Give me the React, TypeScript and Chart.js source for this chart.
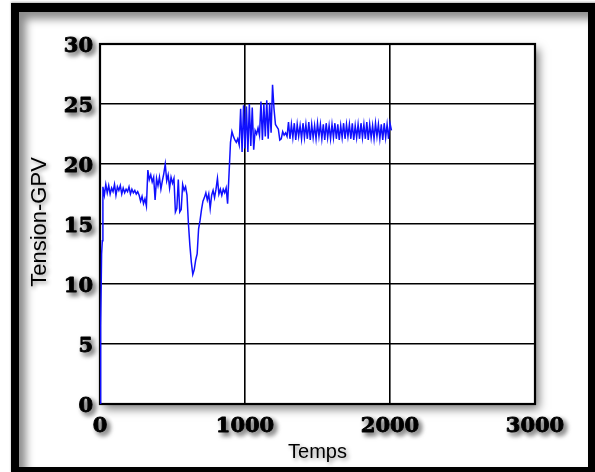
import React, { useEffect, useRef } from "react";
import { Chart, registerables } from "chart.js";

Chart.register(...registerables);

// Axis ticks and titles
const xTicks = [0, 1000, 2000, 3000];
const yTicks = [0, 5, 10, 15, 20, 25, 30];
const xTitle = "Temps";
const yTitle = "Tension-GPV";

// Start-up ramp (irregular times)
const startupTimes = [0, 3, 6, 11, 16];
const startupValues = [0, 3.5, 6.5, 12.5, 13.6];

// Regularly sampled record after the ramp
const sampleStart = 20;
const sampleStep = 10;

// 20 .. 580 : first plateau around 18
const plateauValues = [
  18.1, 17.4, 18.3, 17.6, 18.2, 17.5, 18.0, 17.7, 18.3, 17.4, 18.1, 17.8, 18.2,
  17.5, 18.0, 17.6, 17.9, 17.7, 18.1, 17.5, 17.9, 17.6, 17.8, 17.5, 17.7,
  17.4, 16.9, 17.3, 16.7, 17.1, 16.5,
  19.5, 18.7, 19.1, 18.5, 18.9, 17.0, 18.8, 18.2, 18.9, 17.9, 18.6, 19.2, 20.0,
  18.6, 19.1, 18.0, 18.9, 18.4, 18.8, 16.0, 16.3, 18.7, 16.0, 16.2, 18.3, 17.8,
];

// 590 .. 880 : voltage dip and recovery
const dipValues = [
  18.1, 17.4, 15.0, 13.2, 11.8, 10.8, 11.2, 12.0, 12.5, 14.6, 15.3, 16.2, 16.9, 17.2,
  17.6, 17.0, 17.5, 16.3, 17.4, 17.8, 17.2, 17.9, 18.8, 17.5, 17.9, 17.4, 17.9,
  17.6, 18.0, 16.7,
];

// 890 .. 1290 : step up and oscillating transient
const riseValues = [
  19.2, 21.8, 22.7, 22.3, 22.0, 21.8, 22.1, 21.6,
  24.6, 21.0, 24.9, 21.3, 24.8, 21.0, 25.0, 21.5, 24.7, 21.2,
  22.8, 22.5, 23.0, 22.4,
  25.2, 22.0, 25.0, 22.3, 25.3, 22.1, 25.1, 22.6, 26.6,
  24.6, 23.3, 23.1, 22.9, 22.0, 22.1, 22.7, 22.4, 22.6, 22.3,
];

// 1300 .. 2010 : steady ripple band
const steadyValues = [
  23.5, 22.1, 23.3, 22.2, 23.4, 22.0, 23.3, 22.3, 23.2, 22.1, 23.4, 22.2,
  23.3, 22.1, 23.5, 22.0, 23.3, 22.2, 23.2, 22.1, 23.4, 22.3, 23.3, 22.1,
  23.3, 22.0, 23.4, 22.2, 23.2, 22.1, 23.3, 22.2, 23.4, 22.1, 23.3, 22.0,
  23.2, 22.2, 23.4, 22.1, 23.3, 22.3, 23.3, 22.1, 23.4, 22.0, 23.2, 22.2,
  23.3, 22.1, 23.4, 22.2, 23.3, 22.1, 23.5, 22.0, 23.3, 22.2, 23.2, 22.1,
  23.4, 22.3, 23.3, 22.1, 23.3, 22.0, 23.4, 22.2, 23.3, 22.1, 23.4, 22.8,
];

const W = 595;
const H = 472;

function withShadow(ctx: CanvasRenderingContext2D, blur: number, dx: number, dy: number, alpha: number) {
  ctx.shadowColor = `rgba(0,0,0,${alpha})`;
  ctx.shadowBlur = blur;
  ctx.shadowOffsetX = dx;
  ctx.shadowOffsetY = dy;
}

const decorPlugin = {
  id: "decor",
  beforeDraw(chart: any) {
    const { ctx, chartArea: a } = chart;
    ctx.save();
    withShadow(ctx, 9, 4, 5, 0.5);
    ctx.fillStyle = "#ffffff";
    ctx.fillRect(a.left, a.top, a.right - a.left, a.bottom - a.top);
    ctx.restore();
  },
  beforeDatasetsDraw(chart: any) {
    const { ctx, chartArea: a } = chart;
    ctx.save();
    ctx.strokeStyle = "#000";
    ctx.lineWidth = 2.2;
    ctx.strokeRect(a.left, a.top, a.right - a.left, a.bottom - a.top);
    ctx.restore();
  },
  afterDraw(chart: any) {
    const { ctx, chartArea: a, scales } = chart;
    ctx.save();
    withShadow(ctx, 5, 3, 3, 0.6);
    ctx.fillStyle = "#000";
    ctx.strokeStyle = "#000";
    ctx.lineWidth = 0.9;
    ctx.lineJoin = "round";
    ctx.font = 'bold 21px "DejaVu Serif"';
    ctx.textBaseline = "alphabetic";

    const heavy = (s: string, x: number, y: number) => {
      ctx.fillText(s, x, y);
      ctx.strokeText(s, x, y);
    };

    ctx.textAlign = "right";
    for (const v of yTicks) {
      const y = scales.y.getPixelForValue(v);
      heavy(String(v), a.left - 7, y + 7.5);
    }
    ctx.textAlign = "center";
    for (const v of xTicks) {
      const x = scales.x.getPixelForValue(v);
      heavy(String(v), x, a.bottom + 28);
    }

    withShadow(ctx, 4, 2, 2, 0.45);
    ctx.font = '20px "Liberation Sans", Arial, sans-serif';
    ctx.textAlign = "center";
    ctx.fillText(xTitle, (a.left + a.right) / 2, a.bottom + 54);

    ctx.font = '22px "Liberation Sans", Arial, sans-serif';
    ctx.translate(46, (a.top + a.bottom) / 2 - 2);
    ctx.rotate(-Math.PI / 2);
    ctx.fillText(yTitle, 0, 0);
    ctx.restore();
  },
};

export default function App() {
  const canvasRef = useRef<HTMLCanvasElement | null>(null);

  useEffect(() => {
    const canvas = canvasRef.current;
    if (!canvas) return;

    const sampled = [...plateauValues, ...dipValues, ...riseValues, ...steadyValues];
    const points = [
      ...startupTimes.map((t, i) => ({ x: t, y: startupValues[i] })),
      ...sampled.map((v, i) => ({ x: sampleStart + i * sampleStep, y: v })),
    ];

    const chart = new Chart(canvas, {
      type: "line",
      data: {
        datasets: [
          {
            data: points,
            borderColor: "rgb(16,16,255)",
            borderWidth: 1.5,
            pointRadius: 0,
            tension: 0,
            fill: false,
          },
        ],
      },
      options: {
        responsive: false,
        animation: false,
        events: [],
        layout: { padding: { left: 100, top: 44, right: 60, bottom: 68 } },
        plugins: { legend: { display: false }, tooltip: { enabled: false } },
        scales: {
          x: {
            type: "linear",
            min: 0,
            max: 3000,
            ticks: { display: false, stepSize: 1000 },
            grid: { color: "#000", lineWidth: 1.6, drawTicks: false },
            border: { display: false },
          },
          y: {
            type: "linear",
            min: 0,
            max: 30,
            ticks: { display: false, stepSize: 5 },
            grid: { color: "#000", lineWidth: 1.6, drawTicks: false },
            border: { display: false },
          },
        },
      },
      plugins: [decorPlugin],
    });

    return () => chart.destroy();
  }, []);

  return (
    <div
      style={{
        position: "absolute",
        left: 0,
        top: 0,
        width: W,
        height: H,
        overflow: "hidden",
        background: "#fff",
      }}
    >
      <div
        style={{
          position: "absolute",
          left: 11,
          top: 3,
          width: W - 11 + 2,
          height: H - 3 + 1,
          boxSizing: "border-box",
          borderStyle: "solid",
          borderColor: "#000",
          borderWidth: "9px 9px 6px 8px",
          boxShadow: "inset 7px 7px 9px rgba(0,0,0,0.45), 0 -1px 2px rgba(0,0,0,0.3)",
          background: "#fff",
        }}
      />
      <canvas
        ref={canvasRef}
        width={W}
        height={H}
        style={{ position: "absolute", left: 0, top: 0, width: W, height: H }}
      />
    </div>
  );
}
